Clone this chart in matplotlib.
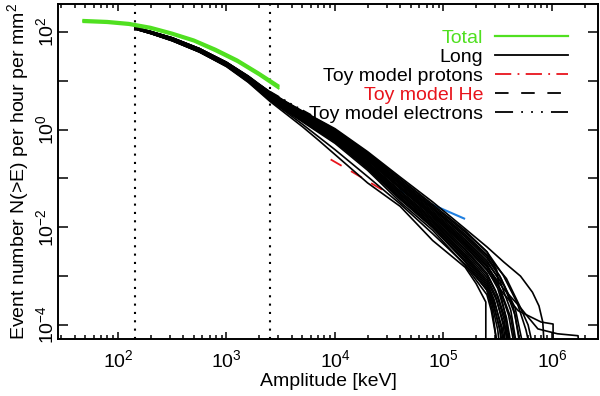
import matplotlib
matplotlib.use("Agg")
import matplotlib.pyplot as plt
import numpy as np
from matplotlib.lines import Line2D
from matplotlib.ticker import FixedLocator, FuncFormatter, NullFormatter, NullLocator

plt.rcParams['font.family'] = ['Liberation Sans', 'DejaVu Sans']
plt.rcParams['mathtext.fontset'] = 'custom'
plt.rcParams['mathtext.rm'] = 'Liberation Sans'
plt.rcParams['mathtext.it'] = 'Liberation Sans:italic'
plt.rcParams['mathtext.bf'] = 'Liberation Sans:bold'

# ---------------- data (log10 values) ----------------
# shared energy grid for the "Long" curves, log10(keV)
LONG_GRID = [2.16, 2.3, 2.5, 2.75, 3.0, 3.2, 3.4, 3.55, 3.7, 3.85, 4.0,
             4.3, 4.6, 4.9, 5.2, 5.4]

# log10 rate of each "Long" curve at LONG_GRID
LONG_RATES = [
    [2.09, 2.01, 1.88, 1.66, 1.38, 1.09, 0.76, 0.56, 0.37, 0.19, 0.00, -0.48, -1.02, -1.56, -2.10, -2.50],
    [2.09, 2.01, 1.87, 1.65, 1.37, 1.08, 0.75, 0.54, 0.35, 0.17, -0.03, -0.52, -1.07, -1.61, -2.17, -2.59],
    [2.08, 2.00, 1.87, 1.65, 1.36, 1.07, 0.73, 0.52, 0.33, 0.14, -0.06, -0.55, -1.11, -1.66, -2.24, -2.68],
    [2.08, 2.00, 1.86, 1.64, 1.36, 1.06, 0.72, 0.51, 0.31, 0.12, -0.08, -0.59, -1.16, -1.71, -2.30, -2.76],
    [2.08, 1.99, 1.86, 1.63, 1.35, 1.05, 0.70, 0.49, 0.29, 0.09, -0.11, -0.62, -1.20, -1.76, -2.37, -2.85],
    [2.08, 1.99, 1.85, 1.63, 1.34, 1.04, 0.69, 0.47, 0.27, 0.07, -0.14, -0.66, -1.25, -1.81, -2.44, -2.94],
    [2.07, 1.99, 1.84, 1.62, 1.33, 1.03, 0.68, 0.45, 0.24, 0.04, -0.17, -0.69, -1.30, -1.86, -2.51, -3.03],
    [2.07, 1.98, 1.84, 1.61, 1.32, 1.02, 0.66, 0.43, 0.22, 0.02, -0.20, -0.73, -1.34, -1.91, -2.58, -3.12],
    [2.07, 1.98, 1.83, 1.60, 1.32, 1.01, 0.65, 0.42, 0.20, -0.01, -0.22, -0.76, -1.39, -1.96, -2.64, -3.20],
    [2.06, 1.97, 1.83, 1.60, 1.31, 1.00, 0.63, 0.40, 0.18, -0.04, -0.25, -0.80, -1.43, -2.01, -2.71, -3.29],
    [2.06, 1.97, 1.82, 1.59, 1.30, 0.99, 0.62, 0.38, 0.16, -0.06, -0.28, -0.83, -1.48, -2.06, -2.78, -3.38],
    [2.09, 2.01, 1.87, 1.65, 1.37, 1.08, 0.74, 0.53, 0.34, 0.16, -0.04, -0.54, -1.09, -1.63, -2.20, -2.63],
    [2.08, 2.00, 1.86, 1.64, 1.35, 1.06, 0.71, 0.50, 0.30, 0.11, -0.10, -0.60, -1.18, -1.74, -2.33, -2.80],
    [2.08, 1.99, 1.85, 1.62, 1.34, 1.04, 0.69, 0.46, 0.26, 0.06, -0.15, -0.67, -1.27, -1.84, -2.47, -2.98],
    [2.07, 1.98, 1.84, 1.61, 1.33, 1.02, 0.67, 0.44, 0.23, 0.03, -0.18, -0.71, -1.32, -1.89, -2.55, -3.08],
    [2.07, 1.98, 1.83, 1.61, 1.32, 1.01, 0.65, 0.42, 0.21, 0.00, -0.21, -0.75, -1.37, -1.94, -2.61, -3.16],
    [2.06, 1.97, 1.83, 1.60, 1.31, 1.00, 0.64, 0.41, 0.19, -0.02, -0.24, -0.78, -1.41, -1.99, -2.68, -3.24],
    [2.09, 2.01, 1.88, 1.66, 1.37, 1.09, 0.75, 0.55, 0.36, 0.18, -0.02, -0.50, -1.05, -1.59, -2.14, -2.56],
    [2.08, 2.00, 1.87, 1.64, 1.36, 1.07, 0.72, 0.52, 0.32, 0.13, -0.07, -0.57, -1.13, -1.69, -2.27, -2.72],
    [2.09, 2.01, 1.88, 1.66, 1.38, 1.10, 0.77, 0.57, 0.38, 0.20, 0.02, -0.45, -0.97, -1.48, -2.03, -2.40],
    [2.09, 2.01, 1.88, 1.66, 1.38, 1.09, 0.76, 0.56, 0.36, 0.18, 0.00, -0.47, -1.00, -1.53, -2.07, -2.50],
    [2.08, 1.99, 1.85, 1.63, 1.34, 1.04, 0.70, 0.48, 0.28, 0.08, -0.12, -0.63, -1.21, -1.78, -2.40, -2.88],
    [2.08, 1.99, 1.86, 1.63, 1.35, 1.05, 0.71, 0.49, 0.29, 0.09, -0.10, -0.61, -1.18, -1.74, -2.34, -2.80],
    [2.06, 1.97, 1.82, 1.59, 1.29, 0.97, 0.58, 0.32, 0.06, -0.22, -0.51, -1.09, -1.57, -2.27, -2.82],
    [2.06, 1.97, 1.82, 1.59, 1.30, 0.98, 0.60, 0.36, 0.11, -0.15, -0.41, -0.96, -1.52, -2.13, -2.76, -3.28],
]

# high-energy tails (log10 keV, log10 rate) continuing each curve
LONG_TAILS = [
    [(5.55, -2.98), (5.68, -3.55), (5.76, -4.1), (5.80, -4.5)],
    [(5.52, -3.0), (5.64, -3.6), (5.72, -4.5)],
    [(5.52, -3.1), (5.62, -3.7), (5.68, -4.5)],
    [(5.50, -3.15), (5.60, -3.8), (5.66, -4.5)],
    [(5.50, -3.25), (5.58, -3.85), (5.63, -4.5)],
    [(5.48, -3.3), (5.56, -3.9), (5.60, -4.5)],
    [(5.48, -3.4), (5.55, -4.0), (5.58, -4.5)],
    [(5.47, -3.5), (5.53, -4.05), (5.56, -4.5)],
    [(5.46, -3.55), (5.52, -4.1), (5.54, -4.5)],
    [(5.45, -3.6), (5.50, -4.1), (5.52, -4.5)],
    [(5.44, -3.7), (5.48, -4.2), (5.50, -4.5)],
    [(5.53, -3.05), (5.66, -3.65), (5.74, -4.5)],
    [(5.52, -3.25), (5.62, -3.85), (5.67, -4.5)],
    [(5.50, -3.4), (5.58, -3.95), (5.62, -4.5)],
    [(5.49, -3.5), (5.56, -4.0), (5.60, -4.5)],
    [(5.47, -3.55), (5.54, -4.05), (5.57, -4.5)],
    [(5.46, -3.6), (5.52, -4.1), (5.55, -4.5)],
    [(5.58, -3.05), (5.70, -3.6), (5.78, -4.0), (5.83, -4.5)],
    [(5.56, -3.2), (5.66, -3.8), (5.71, -4.5)],
    [(5.555, -2.71), (5.71, -3.0), (5.82, -3.33), (5.88, -3.61), (5.915, -3.94), (5.93, -4.5)],
    [(5.49, -2.87), (5.51, -3.2), (5.57, -3.8), (5.60, -4.5)],
    [(5.55, -3.35), (5.69, -3.71), (5.90, -3.94), (6.01, -3.98), (6.01, -4.5)],
    [(5.55, -3.25), (5.70, -3.62), (5.78, -3.84), (5.87, -4.08), (6.05, -4.18), (6.24, -4.22), (6.25, -4.5)],
    [(5.30, -3.15), (5.39, -3.53), (5.39, -4.5)],
    [(5.45, -3.7), (5.50, -4.5)],
]

# "Total" curves (green)
TOTAL_GRID = [1.68, 1.9, 2.1, 2.3, 2.5, 2.7, 2.9, 3.1, 3.3, 3.48]
TOTAL_RATES = [
    [2.25, 2.23, 2.19, 2.11, 1.99, 1.85, 1.66, 1.44, 1.17, 0.91],
    [2.22, 2.20, 2.16, 2.08, 1.96, 1.82, 1.63, 1.41, 1.14, 0.87],
    [2.20, 2.18, 2.14, 2.06, 1.94, 1.80, 1.60, 1.38, 1.11, 0.84],
    [2.23, 2.21, 2.17, 2.09, 1.97, 1.83, 1.64, 1.42, 1.15, 0.89],
]

# Toy models
HE_LOGE = [2.74, 3.0, 3.27, 3.47]
HE_LOGR = [1.67, 1.33, 0.97, 0.67]
ELEC_LOGE = [3.40, 3.60, 3.78]
ELEC_LOGR = [0.78, 0.52, 0.30]
PROT_LOGE = [3.96, 4.17, 4.48]
PROT_LOGR = [-0.61, -0.88, -1.29]
BLUE_LOGE = [4.51, 5.19]
BLUE_LOGR = [-1.16, -1.82]

THRESHOLDS_KEV = [143, 2500]

X_DECADES = [2, 3, 4, 5, 6]
Y_DECADES = [-4, -3, -2, -1, 0, 1, 2]

LEGEND_LABELS = ["Total", "Long", "Toy model protons", "Toy model He", "Toy model electrons"]

GREEN = '#50e020'
RED = '#e8141c'
BLUE = '#1f7fe0'
FS = 14

# ---------------- figure ----------------
fig = plt.figure(figsize=(6.0, 3.96), dpi=100)
ax = fig.add_axes([58/600, 57/396, 540/600, 335/396])
ax.set_xscale('log')
ax.set_yscale('log')

ax.plot(10**np.array(PROT_LOGE), 10**np.array(PROT_LOGR), color=RED, lw=1.3,
        linestyle=(0, (7, 6)), zorder=1)
ax.plot(10**np.array(BLUE_LOGE), 10**np.array(BLUE_LOGR), color=BLUE, lw=1.5, zorder=1)

for v in THRESHOLDS_KEV:
    ax.axvline(v, color='black', lw=1.5, linestyle=(0, (1, 3)), zorder=1.5)

for rates, tail in zip(LONG_RATES, LONG_TAILS):
    lx = list(LONG_GRID[:len(rates)]) + [t[0] for t in tail]
    ly = list(rates) + [t[1] for t in tail]
    ax.plot(10**np.array(lx), 10**np.array(ly), color='black', lw=1.2, zorder=2)

for rates in TOTAL_RATES:
    ax.plot(10**np.array(TOTAL_GRID), 10**np.array(rates), color=GREEN, lw=1.3, zorder=3)

ax.plot(10**np.array(HE_LOGE), 10**np.array(HE_LOGR), color='black', lw=1.3,
        linestyle=(0, (6, 4)), zorder=4)
ax.plot(10**np.array(ELEC_LOGE), 10**np.array(ELEC_LOGR), color='black', lw=1.3,
        linestyle=(0, (6, 3, 1, 3, 1, 3, 1, 3)), zorder=4)

ax.set_xlim(10**1.447, 10**6.424)
ax.set_ylim(10**-4.287, 10**2.573)

# ticks
xminor = [m * 10.0**d for d in [1, 2, 3, 4, 5, 6] for m in range(2, 10)]
ax.xaxis.set_major_locator(FixedLocator([10.0**d for d in X_DECADES]))
ax.xaxis.set_minor_locator(FixedLocator(xminor))
ax.xaxis.set_minor_formatter(NullFormatter())
ax.xaxis.set_major_formatter(FuncFormatter(lambda v, p: r'$10^{%d}$' % round(np.log10(v))))
ax.yaxis.set_major_locator(FixedLocator([10.0**d for d in Y_DECADES]))
ax.yaxis.set_minor_locator(NullLocator())


def yfmt(v, p):
    e = int(round(np.log10(v)))
    return r'$10^{%d}$' % e if e % 2 == 0 else ''


ax.yaxis.set_major_formatter(FuncFormatter(yfmt))

ax.tick_params(which='both', direction='in', top=True, right=True, width=1.1)
ax.tick_params(axis='x', which='major', length=5, labelsize=FS, pad=7)
ax.tick_params(axis='x', which='minor', length=3)
ax.tick_params(axis='y', which='major', length=7, labelsize=FS, pad=1)
for lab in ax.get_yticklabels():
    lab.set_rotation(90)
    lab.set_va('center')
for s in ax.spines.values():
    s.set_linewidth(1.4)

ax.set_xlabel('Amplitude [keV]', fontsize=FS, labelpad=2)
ax.set_ylabel(r'Event number N(>E) per hour per mm$^2$', fontsize=FS, labelpad=3)

handles = [
    Line2D([], [], color=GREEN, lw=1.6),
    Line2D([], [], color='black', lw=1.3),
    Line2D([], [], color=RED, lw=1.3, linestyle=(0, (9, 3.5, 1, 3.5))),
    Line2D([], [], color='black', lw=1.3, linestyle=(0, (7.5, 7))),
    Line2D([], [], color='black', lw=1.3, linestyle=(0, (10, 4.5, 1, 4.5, 1, 4.5, 1, 4.5))),
]
leg = ax.legend(handles, LEGEND_LABELS, loc='upper right',
                bbox_to_anchor=((568 - 58) / 540, 1 - (29 - 4) / 335),
                frameon=False, markerfirst=False, fontsize=FS,
                handlelength=3.75, handletextpad=0.62, labelspacing=0.08,
                borderpad=0, borderaxespad=0)
label_colors = [GREEN, 'black', 'black', RED, 'black']
for t, c in zip(leg.get_texts(), label_colors):
    t.set_color(c)

fig.savefig('out.png', dpi=100)
